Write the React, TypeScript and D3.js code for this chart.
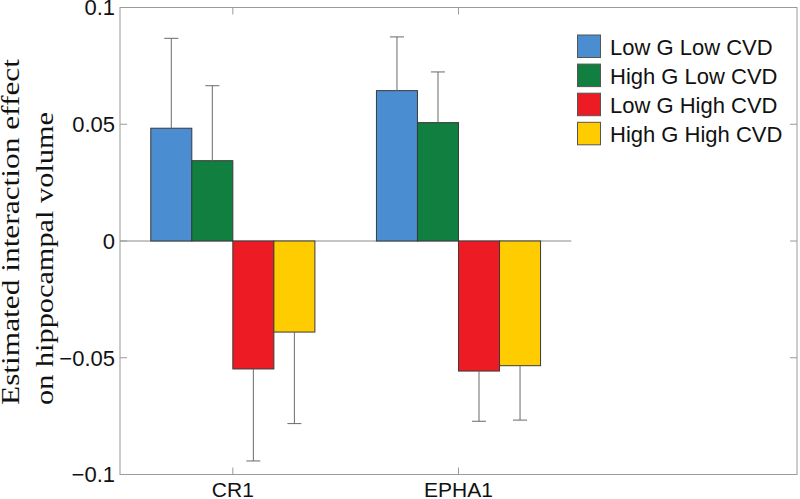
import React from "react";
import * as d3 from "d3";

const categories = ["CR1", "EPHA1"];
const seriesNames = ["Low G Low CVD", "High G Low CVD", "Low G High CVD", "High G High CVD"];
const seriesColors = ["#4a8dd0", "#107f40", "#ed1c24", "#ffcc00"];
// values[series][category]
const values = [
  [0.0483, 0.0644],
  [0.0344, 0.0507],
  [-0.0548, -0.0557],
  [-0.039, -0.0534],
];
// error bar extremes (one-sided, away from zero)
const errorEnds = [
  [0.0868, 0.0874],
  [0.0665, 0.0724],
  [-0.0942, -0.0772],
  [-0.0782, -0.0767],
];
const yTicks = [-0.1, -0.05, 0, 0.05, 0.1];
const yTickLabels = ["\u22120.1", "\u22120.05", "0", "0.05", "0.1"];

const W = 800;
const H = 499;
const left = 120;
const right = 797;
const top = 7.5;
const bottom = 474.5;

export default function App() {
  const x = d3.scaleLinear().domain([0.5, 3.5]).range([left, right]);
  const y = d3.scaleLinear().domain([-0.1, 0.1]).range([bottom, top]);
  const nS = seriesNames.length;
  const groupWidth = Math.min(0.8, nS / (nS + 1.5));
  const slot = groupWidth / nS;
  const sans = "'Liberation Sans', Arial, Helvetica, sans-serif";
  const serif = "'Liberation Serif', 'Times New Roman', serif";
  const axisColor = "#9a9a9a";
  const tickLen = 7;

  return (
    <svg width={W} height={H} style={{ position: "absolute", left: 0, top: 0, background: "#fff" }}>
      <rect x={0} y={0} width={W} height={H} fill="#fff" />
      {/* baseline */}
      <line x1={x(0.5)} x2={x(2.5)} y1={y(0)} y2={y(0)} stroke="#8a8a8a" strokeWidth={1} />
      {/* bars */}
      {values.map((row, s) =>
        row.map((v, c) => {
          const xc = c + 1 - groupWidth / 2 + slot * (s + 0.5);
          const x0 = x(xc - slot / 2);
          const x1 = x(xc + slot / 2);
          const y0 = y(Math.max(0, v));
          const y1 = y(Math.min(0, v));
          return (
            <rect
              key={`b${s}-${c}`}
              x={x0}
              y={y0}
              width={x1 - x0}
              height={y1 - y0}
              fill={seriesColors[s]}
              stroke="#3a3a3a"
              strokeWidth={1}
            />
          );
        })
      )}
      {/* error bars */}
      {errorEnds.map((row, s) =>
        row.map((e, c) => {
          const xc = x(c + 1 - groupWidth / 2 + slot * (s + 0.5));
          const v = values[s][c];
          return (
            <g key={`e${s}-${c}`} stroke="#6a6a6a" strokeWidth={1}>
              <line x1={xc} x2={xc} y1={y(v)} y2={y(e)} />
              <line x1={xc - 7} x2={xc + 7} y1={y(e)} y2={y(e)} />
            </g>
          );
        })
      )}
      {/* axes box */}
      <rect x={left} y={top} width={right - left} height={bottom - top} fill="none" stroke={axisColor} strokeWidth={1} />
      {/* y ticks */}
      {yTicks.map((t, i) => (
        <g key={`yt${i}`}>
          <line x1={left} x2={left + tickLen} y1={y(t)} y2={y(t)} stroke={axisColor} />
          <line x1={right} x2={right - tickLen} y1={y(t)} y2={y(t)} stroke={axisColor} />
          <text
            x={left - 5}
            y={y(t)}
            dy="0.36em"
            textAnchor="end"
            fontFamily={sans}
            fontSize={22}
            fill="#111"
          >
            {yTickLabels[i]}
          </text>
        </g>
      ))}
      {/* x ticks */}
      {categories.map((cat, i) => (
        <g key={`xt${i}`}>
          <line x1={x(i + 1)} x2={x(i + 1)} y1={bottom} y2={bottom - tickLen} stroke={axisColor} />
          <line x1={x(i + 1)} x2={x(i + 1)} y1={top} y2={top + tickLen} stroke={axisColor} />
          <text x={x(i + 1)} y={497} textAnchor="middle" fontFamily={sans} fontSize={21} fill="#111">
            {cat}
          </text>
        </g>
      ))}
      {/* y label */}
      <g transform="translate(18.5,405) rotate(-90)">
        <text x={0} y={0} fontFamily={serif} fontSize={26} fill="#111" textLength={346} lengthAdjust="spacingAndGlyphs">
          Estimated interaction effect
        </text>
        <text x={0} y={34.5} fontFamily={serif} fontSize={26} fill="#111" textLength={293} lengthAdjust="spacingAndGlyphs">
          on hippocampal volume
        </text>
      </g>
      {/* legend */}
      {seriesNames.map((name, i) => {
        const ly = 35 + i * 29.1;
        return (
          <g key={`lg${i}`}>
            <rect x={577.5} y={ly} width={23} height={22.5} fill={seriesColors[i]} stroke="#555" strokeWidth={1} />
            <text x={610} y={ly + 20} fontFamily={sans} fontSize={22} fill="#111">
              {name}
            </text>
          </g>
        );
      })}
    </svg>
  );
}
